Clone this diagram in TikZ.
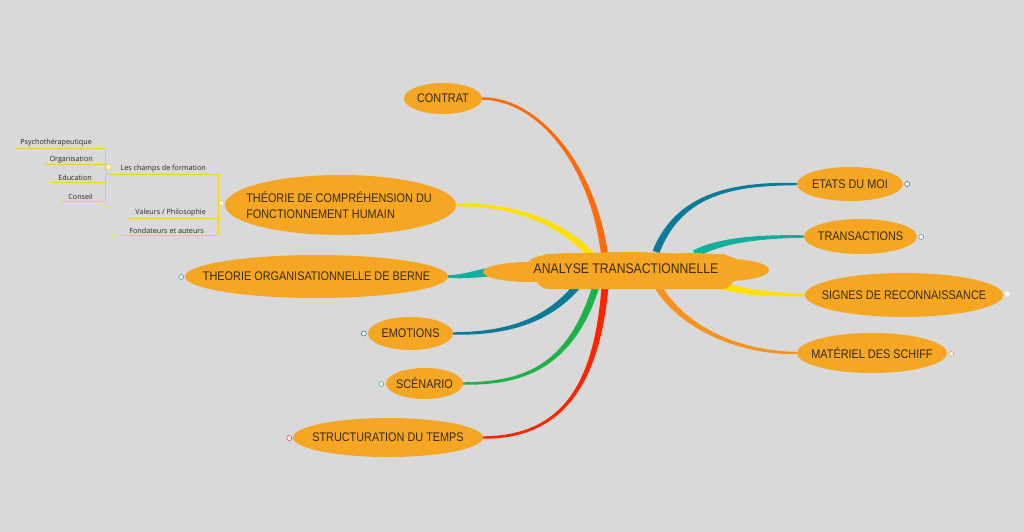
\documentclass[tikz,border=0pt]{standalone}
\usepackage{fontspec}
\newfontfamily\mainf[FakeStretch=0.87]{Liberation Sans}
\newfontfamily\smallf{Open Sans}
\usetikzlibrary{calc,shapes.geometric}
\pgfdeclarelayer{bg}
\pgfsetlayers{bg,main}
\definecolor{bgc}{HTML}{D9D9D9}
\definecolor{nodec}{HTML}{F5A623}
\definecolor{txtc}{HTML}{3A2A12}
\definecolor{corange}{HTML}{FF6A0D}
\definecolor{corangeb}{HTML}{F7921E}
\definecolor{cred}{HTML}{FF2400}
\definecolor{cyellow}{HTML}{FFE000}
\definecolor{cteal}{HTML}{14AE9E}
\definecolor{cblue}{HTML}{0C7A99}
\definecolor{cgreen}{HTML}{1EB34A}
\definecolor{cline}{HTML}{F5CF1A}
\newcommand{\tbranch}[7]{%
  \fill[#1] ($(#2)!#6!90:(#3)$) .. controls ($(#3)!0.7*#6+0.3*#7!-90:(#2)$) and ($(#4)!0.3*#6+0.7*#7!90:(#5)$) .. ($(#5)!#7!-90:(#4)$)
    -- ($(#5)!#7!90:(#4)$) .. controls ($(#4)!0.3*#6+0.7*#7!-90:(#5)$) and ($(#3)!0.7*#6+0.3*#7!90:(#2)$) .. ($(#2)!#6!-90:(#3)$) -- cycle;}
\tikzset{
  topic/.style={ellipse, fill=nodec, inner sep=0pt, draw=none},
  ttext/.style={font={\mainf\fontsize{12.5}{16}\selectfont}, text=txtc, inner sep=0pt},
  ctext/.style={font={\mainf\fontsize{14}{17}\selectfont}, text=txtc, inner sep=0pt},
  stext/.style={font={\smallf\fontsize{7.2}{9}\selectfont}, text=black!85, inner sep=0pt, anchor=south east},
  marker/.style={circle, draw=#1, fill=white!85!bgc, line width=0.5pt, inner sep=0pt, minimum size=5pt},
  uline/.style={draw=cline, line width=0.9pt},
}
\begin{document}
\begin{tikzpicture}[x=1pt,y=-1pt]
\useasboundingbox (0,0) rectangle (1024,532);

% topic nodes
\node[topic, minimum width=78, minimum height=31] (contrat) at (443,98.5) {};
\node[ttext] (contratT) at (contrat.center) {CONTRAT};
\node[topic, minimum width=231, minimum height=60] (theorie) at (340.5,205) {};
\node[ttext, align=left] (theorieT) at (339,205.5) {THÉORIE DE COMPRÉHENSION DU\\FONCTIONNEMENT HUMAIN};
\node[topic, minimum width=263, minimum height=43] (berne) at (316.5,276.5) {};
\node[ttext] (berneT) at (berne.center) {THEORIE ORGANISATIONNELLE DE BERNE};
\node[topic, minimum width=85, minimum height=33] (emotions) at (410.5,333.5) {};
\node[ttext] (emotionsT) at (emotions.center) {EMOTIONS};
\node[topic, minimum width=77, minimum height=31] (scenario) at (424.5,383.5) {};
\node[ttext] (scenarioT) at (scenario.center) {SCÉNARIO};
\node[topic, minimum width=190, minimum height=39] (structuration) at (388,437.5) {};
\node[ttext] (structurationT) at (structuration.center) {STRUCTURATION DU TEMPS};
\node[topic, minimum width=106, minimum height=34] (etats) at (850,184) {};
\node[ttext] (etatsT) at (etats.center) {ETATS DU MOI};
\node[topic, minimum width=113, minimum height=35] (transactions) at (860.5,236.5) {};
\node[ttext] (transactionsT) at (transactions.center) {TRANSACTIONS};
\node[topic, minimum width=198, minimum height=44] (signes) at (904,295) {};
\node[ttext] (signesT) at (signes.center) {SIGNES DE RECONNAISSANCE};
\node[topic, minimum width=150, minimum height=40] (materiel) at (872,353) {};
\node[ttext] (materielT) at (materiel.center) {MATÉRIEL DES SCHIFF};

% central cloud
\fill[nodec, rounded corners=14pt] (535,254) rectangle (735,289);
\fill[nodec] (627,270) ellipse [x radius=112, y radius=18];
\fill[nodec] (530,272) ellipse [x radius=47, y radius=10];
\fill[nodec] (727,270) ellipse [x radius=42, y radius=11];
\fill[nodec] (575,261) ellipse [x radius=45, y radius=8];
\fill[nodec] (690,261) ellipse [x radius=48, y radius=8];
\fill[nodec] (600,281) ellipse [x radius=50, y radius=8];
\node[ctext] (center) at (626,269) {ANALYSE TRANSACTIONNELLE};

% coordinates on the central topic
\coordinate (oC) at (606,268);
\coordinate (oR) at (606,272);
\coordinate (oY) at (594,258);
\coordinate (oT) at (490,272);
\coordinate (oE) at (578,285);
\coordinate (oG) at (596,286);
\coordinate (oM) at (656,252);
\coordinate (oTr) at (695,254);
\coordinate (oS) at (712,283);
\coordinate (oMa) at (657,285);

\begin{pgfonlayer}{bg}
\fill[bgc] (0,0) rectangle (1024,532);
\tbranch{corange}{oC}{598,170}{540,98.5}{contrat.east}{3.6pt}{1.2pt}
\tbranch{cred}{oR}{600,385}{562,437.5}{structuration.east}{3.6pt}{1.2pt}
\tbranch{cyellow}{oY}{560,220}{510,204}{theorie.east}{3.6pt}{1.2pt}
\tbranch{cteal}{oT}{475,274}{462,277}{berne.east}{4.5pt}{1.2pt}
\tbranch{cblue}{oE}{545,325}{500,333.5}{emotions.east}{3.6pt}{1.2pt}
\tbranch{cgreen}{oG}{570,370}{520,383.5}{scenario.east}{3.6pt}{1.2pt}
\tbranch{cblue}{oM}{680,190}{740,184}{etats.west}{3.6pt}{1.2pt}
\tbranch{cteal}{oTr}{720,240}{760,236.5}{transactions.west}{4pt}{1.2pt}
\tbranch{cyellow}{oS}{740,292}{770,295}{signes.west}{4pt}{1.2pt}
\tbranch{corangeb}{oMa}{680,325}{735,353}{materiel.west}{3.6pt}{1.2pt}
\end{pgfonlayer}

% collapse markers
\node[marker=cteal] (mB) at ($(berne.west)+(-3.5,0.5)$) {};
\node[marker=cblue] (mE) at ($(emotions.west)+(-4,0)$) {};
\node[marker=cgreen] (mS) at ($(scenario.west)+(-4.5,0.5)$) {};
\node[marker=cred] (mSt) at ($(structuration.west)+(-3.5,0.5)$) {};
\node[marker=cblue] (mEt) at ($(etats.east)+(4,0)$) {};
\node[marker=cteal] (mTr) at ($(transactions.east)+(4,0.5)$) {};
\node[marker=white!60!cyellow] (mSi) at ($(signes.east)+(4,-1)$) {};
\node[marker=corangeb] (mMa) at ($(materiel.east)+(4,1)$) {};

% left sub-tree
\coordinate (v1t) at (218,174);
\coordinate (v1b) at (218,235);
\draw[uline] (v1t) -- (v1b);
\node[marker=cline] (mT) at (221.5,203) {};
\node[stext] (champs) at (206,172.5) {Les champs de formation};
\node[stext] (valeurs) at (206,216.5) {Valeurs / Philosophie};
\node[stext] (fond) at (204,233.5) {Fondateurs et auteurs};
\draw[uline] (107,174) -- (v1t);
\draw[uline] ($(valeurs.south west)+(-6,1.5)$) -- (218,218);
\draw[uline] ($(fond.south west)+(-8,1.5)$) -- (v1b);

\coordinate (v2t) at (105,148);
\coordinate (v2b) at (105,201);
\draw[uline] (v2t) -- (v2b);
\node[marker=cline] (mC) at (108.5,167) {};
\node[stext] (psy) at (92,146.5) {Psychothérapeutique};
\node[stext] (orga) at (93,163) {Organisation};
\node[stext] (edu) at (92,180.5) {Education};
\node[stext] (cons) at (93,199.5) {Conseil};
\draw[uline] ($(psy.south west)+(-5,1.5)$) -- (v2t);
\draw[uline] ($(orga.south west)+(-5,1)$) -- (105,164);
\draw[uline] ($(edu.south west)+(-8,1.5)$) -- (105,182);
\draw[uline] ($(cons.south west)+(-6,1.5)$) -- (v2b);
\end{tikzpicture}
\end{document}
